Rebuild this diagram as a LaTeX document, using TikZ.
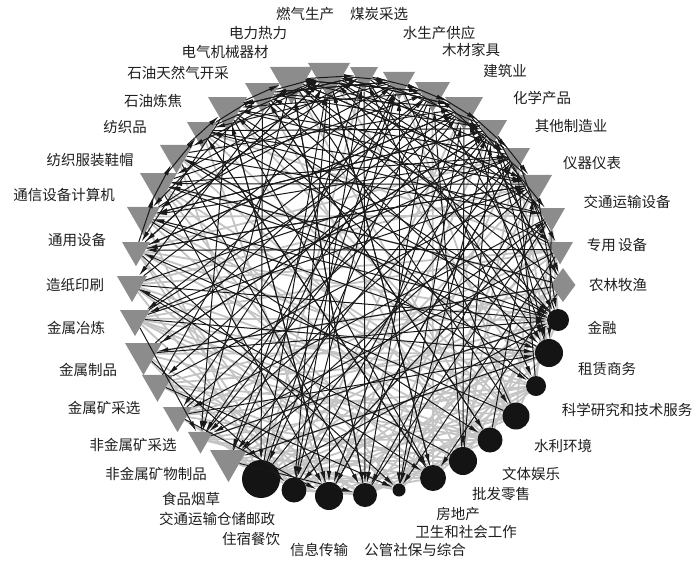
\documentclass[tikz,border=0pt]{standalone}
\usepackage{fontspec}
\newfontfamily\cjk{Noto Sans CJK SC}
\usetikzlibrary{shapes.geometric,arrows.meta}
\definecolor{trigray}{RGB}{140,140,140}
\definecolor{edgegray}{RGB}{196,196,196}
\definecolor{txt}{RGB}{30,30,30}
\pgfdeclarelayer{bg}
\pgfsetlayers{bg,main}
\tikzset{
  tri/.style={regular polygon, regular polygon sides=3, shape border rotate=180, fill=trigray, draw=none, inner sep=0pt},
  dia/.style={diamond, fill=trigray, draw=none, inner sep=0pt, aspect=0.75},
  dot/.style={circle, fill=black!92, draw=none, inner sep=0pt},
  blk/.style={draw=black!90, line width=1pt, -{Latex[length=11pt,width=4.6pt]}},
  gry/.style={draw=edgegray, line width=1.8pt},
  lab/.style={font=\cjk\fontsize{14.5}{16}\selectfont, text=txt, inner sep=0pt}
}
\begin{document}
\begin{tikzpicture}[x=1pt,y=-1pt]
\useasboundingbox (0,0) rectangle (700,563);
% triangles
\node[tri, minimum size=42.7] (n1) at (228.5,460.7) {};
\node[tri, minimum size=28.9] (n2) at (200.5,439.2) {};
\node[tri, minimum size=33.5] (n3) at (177.5,415.4) {};
\node[tri, minimum size=35.8] (n4) at (157.5,383.9) {};
\node[tri, minimum size=42.7] (n5) at (143.5,353.7) {};
\node[tri, minimum size=34.7] (n6) at (135,318.7) {};
\node[tri, minimum size=34.7] (n7) at (132,284.7) {};
\node[tri, minimum size=32.3] (n8) at (136,250.1) {};
\node[tri, minimum size=38.1] (n9) at (143.5,216.5) {};
\node[tri, minimum size=42.7] (n10) at (158.5,183.7) {};
\node[tri, minimum size=38.1] (n11) at (176.5,154.5) {};
\node[tri, minimum size=34.7] (n12) at (202,130.7) {};
\node[tri, minimum size=45] (n13) at (227.5,108.3) {};
\node[tri, minimum size=40.4] (n14) at (262.5,93.1) {};
\node[tri, minimum size=49.7] (n15) at (291.5,79.4) {};
\node[tri, minimum size=48.5] (n16) at (329,75.1) {};
\node[tri, minimum size=32.3] (n17) at (364,75.1) {};
\node[tri, minimum size=37] (n18) at (399,81.2) {};
\node[tri, minimum size=40.4] (n19) at (432.5,92.1) {};
\node[tri, minimum size=43.9] (n20) at (464,108) {};
\node[tri, minimum size=34.7] (n21) at (492,128.7) {};
\node[tri, minimum size=31.2] (n22) at (516.5,155.8) {};
\node[tri, minimum size=37] (n23) at (536,184.2) {};
\node[tri, minimum size=31.2] (n24) at (551.5,215.8) {};
\node[tri, minimum size=30] (n25) at (560,249.5) {};
\node[dia, minimum width=25, minimum height=34] (n26) at (563,285) {};
% circles
\node[dot, minimum size=22] (n27) at (558,320) {};
\node[dot, minimum size=28] (n28) at (549,353) {};
\node[dot, minimum size=20] (n29) at (536,386) {};
\node[dot, minimum size=27] (n30) at (516,416) {};
\node[dot, minimum size=25] (n31) at (490,440) {};
\node[dot, minimum size=28] (n32) at (463,461) {};
\node[dot, minimum size=26] (n33) at (433,478) {};
\node[dot, minimum size=13] (n34) at (399,490) {};
\node[dot, minimum size=24] (n35) at (365,495) {};
\node[dot, minimum size=28] (n36) at (329,496) {};
\node[dot, minimum size=25] (n37) at (294,490) {};
\node[dot, minimum size=38] (n38) at (261,479) {};
% gray edges
\begin{pgfonlayer}{bg}
\foreach \a/\b in {1/30,1/32,1/28,2/31,2/29,3/32,3/27,4/30,4/33,4/26,5/31,5/35,6/29,6/32,6/36,7/30,7/34,7/25,8/31,8/37,8/27,9/33,9/30,10/32,10/34,11/31,11/37,12/30,12/36,38/30,38/28,38/25,37/29,37/24,36/27,36/30,35/26,35/29,34/28,34/23,33/29,33/27,32/26,32/22,31/25,30/27,30/23,29/24,28/22,27/24,38/31,37/32,36/33,35/31,5/26,6/25,3/25,2/27,4/28,9/38,8/36,7/37,13/30,14/32,15/31,16/29,17/38,18/30,19/33,20/37,21/36,22/35,23/38,24/34,25/33,10/26,11/28,12/25,9/24,8/22,7/23,1/36,2/34,3/37,4/35,5/38,6/33,1/26,3/29,5/28,6/27,38/33,37/35,2/33,4/31,6/31,8/29,10/30,38/29,37/27,1/34}
  \draw[gry] (n\a) -- (n\b);
\end{pgfonlayer}
% black directed edges
\foreach \a/\b in {13/2,13/8,13/27,13/33,13/23,13/36,14/38,14/9,14/28,14/21,14/31,15/2,15/23,15/35,15/7,15/30,15/27,16/36,16/8,16/22,16/11,16/33,16/25,16/37,17/1,17/10,17/28,17/35,17/24,18/3,18/9,18/29,18/34,18/12,18/37,19/2,19/6,19/27,19/35,19/13,19/38,20/4,20/8,20/32,20/36,20/14,20/26,21/1,21/9,21/28,21/34,21/15,21/5,12/21,12/23,12/33,12/27,11/20,11/24,11/35,11/29,10/19,10/27,10/36,10/22,9/21,9/28,9/31,9/17,8/20,8/23,8/34,8/16,7/18,7/27,7/33,7/22,6/20,6/23,6/28,6/2,5/19,5/27,5/37,5/21,4/16,4/23,4/34,3/21,3/28,3/36,2/20,2/27,1/18,1/24,1/35,22/9,22/2,22/36,22/13,22/6,23/8,23/1,23/35,23/15,23/10,24/12,24/3,24/37,24/16,25/8,25/2,25/34,25/14,26/10,26/5,26/33,26/15,26/20,27/9,27/21,27/16,28/11,28/20,28/1,29/13,29/22,30/17,30/8,31/14,31/23,32/19,32/7,32/21,33/16,33/12,34/18,34/20,35/15,35/24,36/13,36/22,37/17,37/21,38/18,38/22,38/27,38/16,13/15,14/16,15/17,16/18,17/19,18/20,19/21,20/22,21/23,12/14,11/13,15/19,16/20,13/17,14/18,20/24,21/25,22/26,23/27,24/28,10/12,9/11,8/10,17/13,19/15,21/17,12/16,18/14,20/16,22/18,23/19}
  \draw[blk] (n\a) -- (n\b);
% labels
\node[lab] (l1) at (305,14) {燃气生产};
\node[lab] (l2) at (379,14) {煤炭采选};
\node[lab] (l3) at (258,33) {电力热力};
\node[lab] (l4) at (439,33) {水生产供应};
\node[lab] (l5) at (225,52) {电气机械器材};
\node[lab] (l6) at (471,50) {木材家具};
\node[lab] (l7) at (178,73) {石油天然气开采};
\node[lab] (l8) at (505,71) {建筑业};
\node[lab] (l9) at (153,101) {石油炼焦};
\node[lab] (l10) at (542,98) {化学产品};
\node[lab] (l11) at (125,127) {纺织品};
\node[lab] (l12) at (571,126) {其他制造业};
\node[lab] (l13) at (90,160) {纺织服装鞋帽};
\node[lab] (l14) at (592,163) {仪器仪表};
\node[lab] (l15) at (64,195) {通信设备计算机};
\node[lab] (l16) at (627,202) {交通运输设备};
\node[lab] (l17) at (77,240) {通用设备};
\node[lab] (l18) at (617,245) {专用\,设备};
\node[lab] (l19) at (75,285) {造纸印刷};
\node[lab] (l20) at (618,285) {农林牧渔};
\node[lab] (l21) at (76,328) {金属冶炼};
\node[lab] (l22) at (602,328) {金融};
\node[lab] (l23) at (88,370) {金属制品};
\node[lab] (l24) at (607,369) {租赁商务};
\node[lab] (l25) at (104,408) {金属矿采选};
\node[lab] (l26) at (627,410) {科学研究和技术服务};
\node[lab] (l27) at (133,445) {非金属矿采选};
\node[lab] (l28) at (563,446) {水利环境};
\node[lab] (l29) at (156,474) {非金属矿物制品};
\node[lab] (l30) at (531,474) {文体娱乐};
\node[lab] (l31) at (191,499) {食品烟草};
\node[lab] (l32) at (501,494) {批发零售};
\node[lab] (l33) at (217,519) {交通运输仓储邮政};
\node[lab] (l34) at (458,514) {房地产};
\node[lab] (l35) at (251,539) {住宿餐饮};
\node[lab] (l36) at (466,532) {卫生和社会工作};
\node[lab] (l37) at (319,550) {信息传输};
\node[lab] (l38) at (415,550) {公管社保与综合};
\end{tikzpicture}
\end{document}
